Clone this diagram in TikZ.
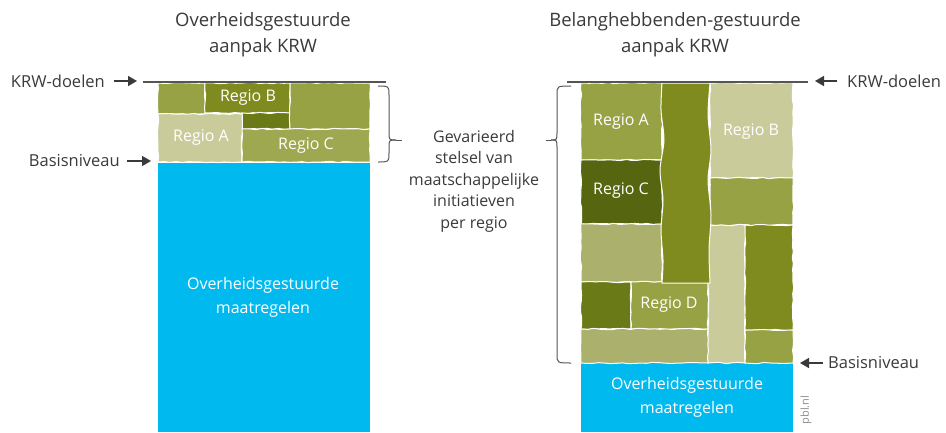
\documentclass[tikz,border=0pt]{standalone}
\usepackage{fontspec}
\setmainfont{Open Sans}
\usetikzlibrary{arrows.meta, positioning, decorations.pathmorphing}
\definecolor{txtgray}{HTML}{3A3A3A}
\definecolor{linegray}{HTML}{555555}
\definecolor{skyblue}{HTML}{00B9EF}
\definecolor{olivelight}{HTML}{C9CC9A}
\definecolor{olivepale}{HTML}{ABB16D}
\definecolor{olivemid}{HTML}{97A244}
\definecolor{olivedeep}{HTML}{808B1F}
\definecolor{olivedark}{HTML}{6A7A17}
\definecolor{olivenight}{HTML}{566510}
\tikzset{
  lbl/.style={font=\fontsize{16.5}{21.5}\selectfont, text=txtgray, inner sep=0pt, align=center},
  midlbl/.style={font=\fontsize{16}{21.5}\selectfont, text=txtgray, inner sep=0pt, align=center},
  ttl/.style={font=\fontsize{18.5}{26}\selectfont, text=txtgray, inner sep=0pt, align=center},
  inlbl/.style={font=\fontsize{16}{24}\selectfont, text=white, inner sep=0pt, align=center},
  tile/.style={draw=white, line width=1pt, decorate, decoration={random steps, segment length=6pt, amplitude=0.7pt}},
  arw/.style={draw=txtgray, line width=1.5pt, -{Triangle[length=9pt,width=10pt]}},
  goal/.style={draw=linegray, line width=2.8pt},
  brc/.style={draw=linegray, line width=1pt},
}
\begin{document}
\begin{tikzpicture}[x=1pt, y=-1pt]
  \useasboundingbox (0,0) rectangle (946,432);
  % left: overheidsgestuurd
  \node[ttl] (ttlL) at (263,35) {Overheidsgestuurde\\aanpak KRW};
  \fill[skyblue] (158,163) rectangle (370,432);
  \node[inlbl] (blueL) at (263,297) {Overheidsgestuurde\\maatregelen};
  \filldraw[tile, fill=olivemid] (158,83) rectangle (205,114);
  \filldraw[tile, fill=olivedeep] (205,83) rectangle (290,113);
  \filldraw[tile, fill=olivedark] (242,113) rectangle (290,129);
  \filldraw[tile, fill=olivemid] (290,83) rectangle (370,129);
  \filldraw[tile, fill=olivelight] (158,114) rectangle (242,162);
  \filldraw[tile, fill=olivemid!85!olivelight] (242,129) rectangle (370,162);
  \node[inlbl] (rbL) at (248,98) {Regio B};
  \node[inlbl] (raL) at (201,138) {Regio A};
  \node[inlbl] (rcL) at (306,146) {Regio C};
  \coordinate (goalLa) at (143,82);
  \coordinate (goalLb) at (386,82);
  \draw[goal] (goalLa) -- (goalLb);
  \node[lbl, anchor=east] (krwL) at (105,81) {KRW-doelen};
  \coordinate (krwLa) at (114,81);
  \coordinate (krwLb) at (137,81);
  \draw[arw] (krwLa) -- (krwLb);
  \node[lbl, anchor=east] (basL) at (120,161) {Basisniveau};
  \coordinate (basLa) at (127,161);
  \coordinate (basLb) at (151,161);
  \draw[arw] (basLa) -- (basLb);

  % middle text with braces
  \node[midlbl] (gev) at (474,181) {Gevarieerd\\stelsel van\\maatschappelijke\\initiatieven\\per regio};
  \coordinate (tipL) at (396,140);
  \coordinate (tipR) at (551,140);
  \draw[brc] (378,86) .. controls (389,86) .. (389,95) -- (389,132) .. controls (389,140) .. (tipL);
  \draw[brc] (378,162) .. controls (389,162) .. (389,153) -- (389,148) .. controls (389,140) .. (tipL);
  \draw[brc] (571,86) .. controls (557,86) .. (557,95) -- (557,132) .. controls (557,140) .. (tipR);
  \draw[brc] (571,363) .. controls (557,363) .. (557,354) -- (557,148) .. controls (557,140) .. (tipR);
  \draw[brc] (tipL) -- ([xshift=-7pt]gev.north west |- tipL);
  \draw[brc] ([xshift=7pt]gev.north east |- tipR) -- (tipR);

  % right: belanghebbenden-gestuurd
  \node[ttl] (ttlR) at (675,35) {Belanghebbenden-gestuurde\\aanpak KRW};
  \fill[skyblue] (581,363) rectangle (793,432);
  \node[inlbl] (blueR) at (687,397) {Overheidsgestuurde\\maatregelen};
  \filldraw[tile, fill=olivemid] (581,83) rectangle (662,160);
  \filldraw[tile, fill=olivenight] (581,160) rectangle (662,224);
  \filldraw[tile, fill=olivepale] (581,224) rectangle (662,282);
  \filldraw[tile, fill=olivelight] (710,83) rectangle (793,178);
  \filldraw[tile, fill=olivemid] (710,178) rectangle (793,225);
  \filldraw[tile, fill=olivelight] (708,225) rectangle (745,363);
  \filldraw[tile, fill=olivedeep] (745,225) rectangle (793,330);
  \filldraw[tile, fill=olivemid] (745,330) rectangle (793,363);
  \filldraw[tile, fill=olivedark] (581,282) rectangle (631,329);
  \filldraw[tile, fill=olivemid] (631,282) rectangle (708,329);
  \filldraw[tile, fill=olivepale] (581,329) rectangle (708,363);
  \filldraw[draw=white, line width=1pt, fill=olivedeep]
    plot[smooth] coordinates {(662,83) (661,110) (664,140) (660,170) (663,200) (661,230) (663,260) (662,283)}
    -- plot[smooth] coordinates {(710,283) (709,250) (711,215) (708,180) (711,150) (708,115) (710,83)} -- cycle;
  \node[inlbl] (raR) at (621,122) {Regio A};
  \node[inlbl] (rcR) at (621,191) {Regio C};
  \node[inlbl] (rbR) at (751,132) {Regio B};
  \node[inlbl] (rdR) at (669,305) {Regio D};
  \coordinate (goalRa) at (567,82);
  \coordinate (goalRb) at (808,82);
  \draw[goal] (goalRa) -- (goalRb);
  \node[lbl, anchor=west] (krwR) at (847,81) {KRW-doelen};
  \coordinate (krwRa) at (837,81);
  \coordinate (krwRb) at (815,81);
  \draw[arw] (krwRa) -- (krwRb);
  \node[lbl, anchor=west] (basR) at (828,363) {Basisniveau};
  \coordinate (basRa) at (823,363);
  \coordinate (basRb) at (800,363);
  \draw[arw] (basRa) -- (basRb);
  \node[font=\fontsize{11}{13}\selectfont, text=black!45, rotate=90, inner sep=0pt] (pbl) at (806,410) {pbl.nl};
\end{tikzpicture}
\end{document}
